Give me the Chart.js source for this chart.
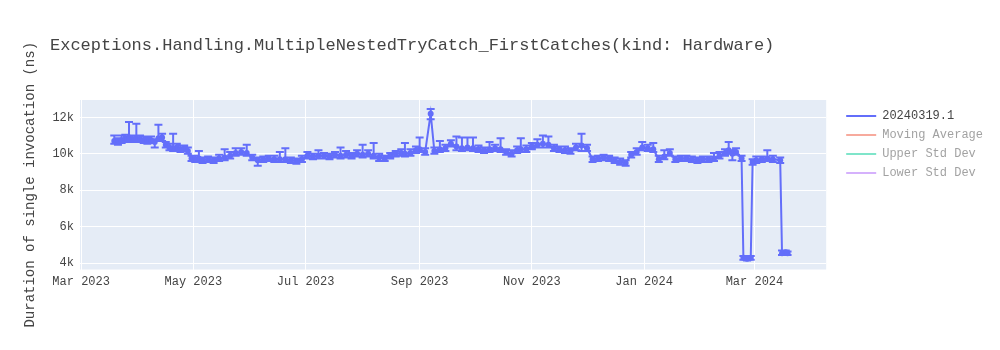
<!DOCTYPE html>
<html>
<head>
<meta charset="utf-8">
<script src="https://cdn.jsdelivr.net/npm/chart.js@4.4.1/dist/chart.umd.min.js"></script>
<style>
  html, body { margin: 0; padding: 0; background: #fff; }
  #wrap { width: 1000px; height: 350px; }
</style>
</head>
<body>
<div id="wrap"><canvas id="out" width="1000" height="350"></canvas></div>
<script>
const chartTitle = "Exceptions.Handling.MultipleNestedTryCatch_FirstCatches(kind: Hardware)";
const yAxisTitle = "Duration of single invocation (ns)";
const seriesNames = ["20240319.1", "Moving Average", "Upper Std Dev", "Lower Std Dev"];

const runDates = [
  "2023-03-19", "2023-03-21", "2023-03-23", "2023-03-25", "2023-03-27", "2023-03-29", "2023-03-31",
  "2023-04-02", "2023-04-04", "2023-04-06", "2023-04-08", "2023-04-10", "2023-04-12", "2023-04-14",
  "2023-04-16", "2023-04-18", "2023-04-20", "2023-04-22", "2023-04-24", "2023-04-26", "2023-04-28",
  "2023-04-30", "2023-05-02", "2023-05-04", "2023-05-06", "2023-05-09", "2023-05-12", "2023-05-15",
  "2023-05-18", "2023-05-21", "2023-05-24", "2023-05-27", "2023-05-30", "2023-06-02", "2023-06-05",
  "2023-06-08", "2023-06-11", "2023-06-14", "2023-06-17", "2023-06-20", "2023-06-23", "2023-06-26",
  "2023-06-29", "2023-07-02", "2023-07-05", "2023-07-08", "2023-07-11", "2023-07-14", "2023-07-17",
  "2023-07-20", "2023-07-23", "2023-07-26", "2023-07-29", "2023-08-01", "2023-08-04", "2023-08-07",
  "2023-08-10", "2023-08-13", "2023-08-16", "2023-08-19", "2023-08-22", "2023-08-24", "2023-08-27",
  "2023-08-30", "2023-09-01", "2023-09-04", "2023-09-07", "2023-09-09", "2023-09-12", "2023-09-15",
  "2023-09-18", "2023-09-21", "2023-09-24", "2023-09-27", "2023-09-30", "2023-10-03", "2023-10-06",
  "2023-10-09", "2023-10-12", "2023-10-15", "2023-10-18", "2023-10-21", "2023-10-24", "2023-10-26",
  "2023-10-29", "2023-11-01", "2023-11-04", "2023-11-07", "2023-11-10", "2023-11-13", "2023-11-16",
  "2023-11-19", "2023-11-22", "2023-11-25", "2023-11-28", "2023-12-01", "2023-12-04", "2023-12-07",
  "2023-12-10", "2023-12-13", "2023-12-16", "2023-12-19", "2023-12-22", "2023-12-25", "2023-12-28",
  "2023-12-31", "2024-01-03", "2024-01-06", "2024-01-09", "2024-01-12", "2024-01-15", "2024-01-18",
  "2024-01-21", "2024-01-24", "2024-01-27", "2024-01-30", "2024-02-02", "2024-02-05", "2024-02-08",
  "2024-02-11", "2024-02-14", "2024-02-16", "2024-02-18", "2024-02-20", "2024-02-23", "2024-02-24",
  "2024-02-26", "2024-02-28", "2024-02-29", "2024-03-02", "2024-03-05", "2024-03-08", "2024-03-11",
  "2024-03-15", "2024-03-16", "2024-03-18", "2024-03-19"
];
const durations = [
  10700, 10650, 10750, 10850, 10900, 10800, 10850,
  10800, 10750, 10700, 10750, 10650, 10850, 10900,
  10500, 10350, 10300, 10350, 10250, 10300, 10150,
  9750, 9700, 9750, 9650, 9700, 9650, 9750,
  9800, 9900, 10050, 10100, 10050, 9800, 9650,
  9700, 9750, 9700, 9700, 9700, 9650, 9600,
  9700, 9900, 9850, 9900, 9900, 9850, 9950,
  9900, 9950, 9900, 10000, 9950, 10000, 9900,
  9800, 9750, 9900, 10000, 10050, 10000, 10050,
  10200, 10250, 10100, 12200, 10150, 10250, 10300,
  10550, 10400, 10300, 10350, 10300, 10250, 10200,
  10250, 10300, 10250, 10100, 10000, 10200, 10250,
  10250, 10400, 10500, 10550, 10500, 10300, 10250,
  10200, 10150, 10350, 10450, 10300, 9700, 9750,
  9800, 9750, 9650, 9550, 9500, 9950, 10100,
  10350, 10300, 10250, 9700, 9850, 10050, 9700,
  9750, 9750, 9700, 9650, 9700, 9700, 9750,
  9900, 10050, 10200, 10000, 10100, 9750, 4300,
  4250, 4300, 9550, 9650, 9700, 9750, 9700,
  9650, 4550, 4600, 4550
];
const errUp = [
  300, 200, 250, 200, 850, 200, 800,
  200, 200, 150, 200, 150, 750, 200,
  150, 200, 800, 200, 200, 150, 200,
  150, 200, 400, 150, 150, 150, 200,
  450, 200, 250, 200, 450, 150, 150,
  150, 150, 200, 400, 600, 150, 150,
  200, 200, 150, 300, 150, 150, 150,
  450, 200, 150, 200, 550, 200, 700,
  200, 150, 150, 150, 200, 600, 200,
  200, 650, 200, 250, 200, 450, 200,
  200, 550, 600, 550, 600, 200, 150,
  400, 200, 600, 150, 200, 200, 600,
  200, 200, 300, 450, 450, 200, 150,
  200, 150, 200, 650, 200, 150, 150,
  150, 150, 150, 200, 150, 150, 200,
  300, 200, 350, 200, 350, 200, 150,
  150, 150, 150, 150, 150, 150, 300,
  200, 200, 450, 200, 200, 150, 100,
  100, 100, 150, 200, 150, 450, 200,
  150, 150, 100, 100
];
const errDown = [
  150, 150, 150, 200, 150, 150, 150,
  150, 150, 150, 150, 300, 150, 200,
  150, 150, 150, 150, 150, 150, 150,
  150, 150, 150, 150, 150, 150, 150,
  150, 150, 150, 150, 150, 150, 300,
  150, 150, 150, 150, 150, 150, 150,
  150, 150, 150, 150, 150, 150, 150,
  150, 150, 150, 150, 150, 150, 150,
  200, 150, 150, 150, 150, 150, 150,
  150, 150, 150, 300, 150, 150, 150,
  150, 200, 150, 150, 150, 150, 150,
  150, 150, 150, 150, 150, 150, 150,
  150, 150, 150, 200, 150, 150, 150,
  150, 150, 150, 300, 150, 150, 150,
  150, 150, 150, 150, 150, 150, 150,
  150, 150, 150, 150, 150, 150, 150,
  150, 150, 150, 150, 150, 150, 150,
  150, 150, 200, 350, 150, 150, 100,
  100, 100, 150, 150, 150, 150, 150,
  150, 100, 100, 100
];

const xTickDates = ["2023-03-01", "2023-05-01", "2023-07-01", "2023-09-01", "2023-11-01", "2024-01-01", "2024-03-01"];
const xTickLabels = ["Mar 2023", "May 2023", "Jul 2023", "Sep 2023", "Nov 2023", "Jan 2024", "Mar 2024"];
const yTickValues = [4000, 6000, 8000, 10000, 12000];
const yTickLabels = ["4k", "6k", "8k", "10k", "12k"];

const colors = ["#636efa", "#EF553B", "#00cc96", "#ab63fa"];
const textColor = "#444";
const DAY = 86400000;

function toTime(d) {
  return Date.parse(d + "T00:00:00Z");
}
function fade(hex) {
  const n = parseInt(hex.slice(1), 16);
  return "rgba(" + (n >> 16) + "," + ((n >> 8) & 255) + "," + (n & 255) + ",0.5)";
}

const runTimes = runDates.map(toTime);
const points = runTimes.map((t, i) => ({ x: t, y: durations[i] }));

// plot background + move title/legend to where plotly puts them
const plotlyLook = {
  id: "plotlyLook",
  afterLayout(chart) {
    chart.titleBlock.left += 40;
    const lg = chart.legend;
    lg.left += 13;
    lg.right += 30;
    lg.width += 17;
    lg.top += 3;
    lg.bottom += 3;
  },
  beforeDraw(chart) {
    const a = chart.chartArea;
    const ctx = chart.ctx;
    ctx.save();
    ctx.fillStyle = "#e5ecf6";
    ctx.fillRect(a.left, a.top, a.right - a.left, a.bottom - a.top);
    ctx.restore();
  }
};

const errorBars = {
  id: "errorBars",
  afterDatasetsDraw(chart) {
    if (!chart.isDatasetVisible(0)) return;
    const { ctx, chartArea: a } = chart;
    const xs = chart.scales.x, ys = chart.scales.y;
    ctx.save();
    ctx.beginPath();
    ctx.rect(a.left, a.top, a.right - a.left, a.bottom - a.top);
    ctx.clip();
    ctx.strokeStyle = colors[0];
    ctx.lineWidth = 2;
    ctx.beginPath();
    runTimes.forEach((t, i) => {
      const px = xs.getPixelForValue(t);
      const top = ys.getPixelForValue(durations[i] + errUp[i]);
      const bot = ys.getPixelForValue(durations[i] - errDown[i]);
      ctx.moveTo(px, top); ctx.lineTo(px, bot);
      ctx.moveTo(px - 4, top); ctx.lineTo(px + 4, top);
      ctx.moveTo(px - 4, bot); ctx.lineTo(px + 4, bot);
    });
    ctx.stroke();
    ctx.restore();
  }
};

Chart.defaults.font.family = '"Courier New", "Liberation Mono", monospace';
Chart.defaults.color = textColor;

const datasets = seriesNames.map((name, i) => ({
  label: name,
  data: i === 0 ? points : [],
  hidden: i !== 0,
  borderColor: colors[i],
  backgroundColor: colors[i],
  borderWidth: 2,
  pointRadius: i === 0 ? 3 : 0,
  pointBorderWidth: 0,
  tension: 0
}));

new Chart(document.getElementById("out").getContext("2d"), {
  type: "line",
  data: { datasets },
  options: {
    responsive: false,
    animation: false,
    layout: { padding: { left: 10, right: 20, top: 0, bottom: 0 } },
    plugins: {
      title: {
        display: true,
        text: chartTitle,
        align: "start",
        color: textColor,
        font: { size: 17, weight: "normal" },
        padding: { top: 35, bottom: 44.6 }
      },
      legend: {
        position: "right",
        align: "start",
        fullSize: false,
        labels: {
          usePointStyle: true,
          pointStyleWidth: 30,
          padding: 7,
          font: { size: 12 },
          generateLabels(chart) {
            return chart.data.datasets.map((ds, i) => {
              const off = !chart.isDatasetVisible(i);
              return {
                text: ds.label,
                datasetIndex: i,
                hidden: false,
                pointStyle: "line",
                lineWidth: 2,
                strokeStyle: off ? fade(colors[i]) : colors[i],
                fillStyle: off ? fade(colors[i]) : colors[i],
                fontColor: off ? "rgba(68,68,68,0.5)" : textColor
              };
            });
          }
        }
      },
      tooltip: { enabled: false }
    },
    scales: {
      x: {
        type: "linear",
        min: toTime("2023-03-01") - 0.63 * DAY,
        max: toTime("2024-04-09"),
        afterBuildTicks(s) { s.ticks = xTickDates.map(d => ({ value: toTime(d) })); },
        afterFit(s) { s.height = 80.5; },
        grid: { color: "#ffffff", lineWidth: 1, drawTicks: false },
        border: { display: false },
        ticks: {
          autoSkip: false,
          maxRotation: 0,
          padding: 5,
          font: { size: 12 },
          callback: (v, i) => xTickLabels[i]
        }
      },
      y: {
        min: 3660,
        max: 12950,
        afterBuildTicks(s) { s.ticks = yTickValues.map(v => ({ value: v })); },
        afterFit(s) { s.width = 70; },
        grid: { color: "#ffffff", lineWidth: 1, drawTicks: false },
        border: { display: false },
        ticks: {
          padding: 6,
          font: { size: 12 },
          callback: (v, i) => yTickLabels[i]
        },
        title: {
          display: true,
          text: yAxisTitle,
          font: { size: 14 },
          padding: { top: 12, bottom: 0 }
        }
      }
    }
  },
  plugins: [plotlyLook, errorBars]
});
</script>
</body>
</html>
